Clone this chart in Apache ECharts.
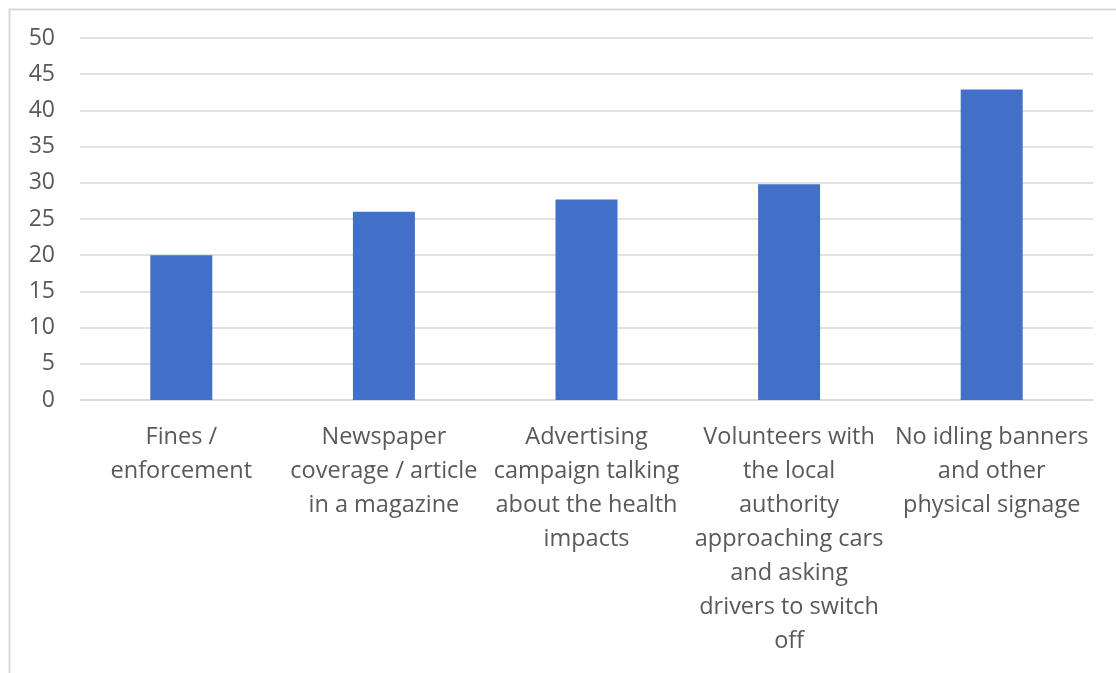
<!DOCTYPE html>
<html>
<head>
<meta charset="utf-8">
<script src="https://cdn.jsdelivr.net/npm/echarts@6/dist/echarts.min.js"></script>
<style>
  html, body { margin: 0; padding: 0; background: #ffffff; }
  #chart { width: 1116px; height: 673px; }
</style>
</head>
<body>
<div id="chart"></div>
<script>
// Measures to reduce engine idling, with response counts
const categories = [
  'Fines /\nenforcement',
  'Newspaper\ncoverage / article\nin a magazine',
  'Advertising\ncampaign talking\nabout the health\nimpacts',
  'Volunteers with\nthe local\nauthority\napproaching cars\nand asking\ndrivers to switch\noff',
  'No idling banners\nand other\nphysical signage'
];
const values = [20, 26, 27.7, 29.8, 42.9];
const yTicks = { min: 0, max: 50, interval: 5 };

const textColor = '#595959';
const gridColor = '#d9d9d9';
const fontFamily = '"Open Sans", Lato, sans-serif';

const chart = echarts.init(document.getElementById('chart'), null, { renderer: 'canvas' });

chart.setOption({
  animation: false,
  backgroundColor: '#ffffff',
  graphic: [{
    type: 'rect',
    left: 7,
    top: 7,
    shape: { width: 1130, height: 700 },
    style: { fill: 'none', stroke: gridColor, lineWidth: 2 },
    z: -1
  }],
  grid: { left: 80, right: 23, top: 38, bottom: 273, containLabel: false },
  xAxis: {
    type: 'category',
    data: categories,
    axisLine: { show: true, lineStyle: { color: gridColor, width: 1.5 } },
    axisTick: { show: false },
    axisLabel: {
      interval: 0,
      margin: 20,
      color: textColor,
      fontFamily: fontFamily,
      fontSize: 23.5,
      lineHeight: 34,
      align: 'center'
    }
  },
  yAxis: {
    type: 'value',
    min: yTicks.min,
    max: yTicks.max,
    interval: yTicks.interval,
    axisLine: { show: false },
    axisTick: { show: false },
    splitLine: { lineStyle: { color: gridColor, width: 1.5 } },
    axisLabel: {
      margin: 25,
      color: textColor,
      fontFamily: fontFamily,
      fontSize: 23
    }
  },
  series: [{
    type: 'bar',
    data: values,
    barWidth: 62,
    itemStyle: { color: '#4270c8' }
  }]
});
</script>
</body>
</html>
